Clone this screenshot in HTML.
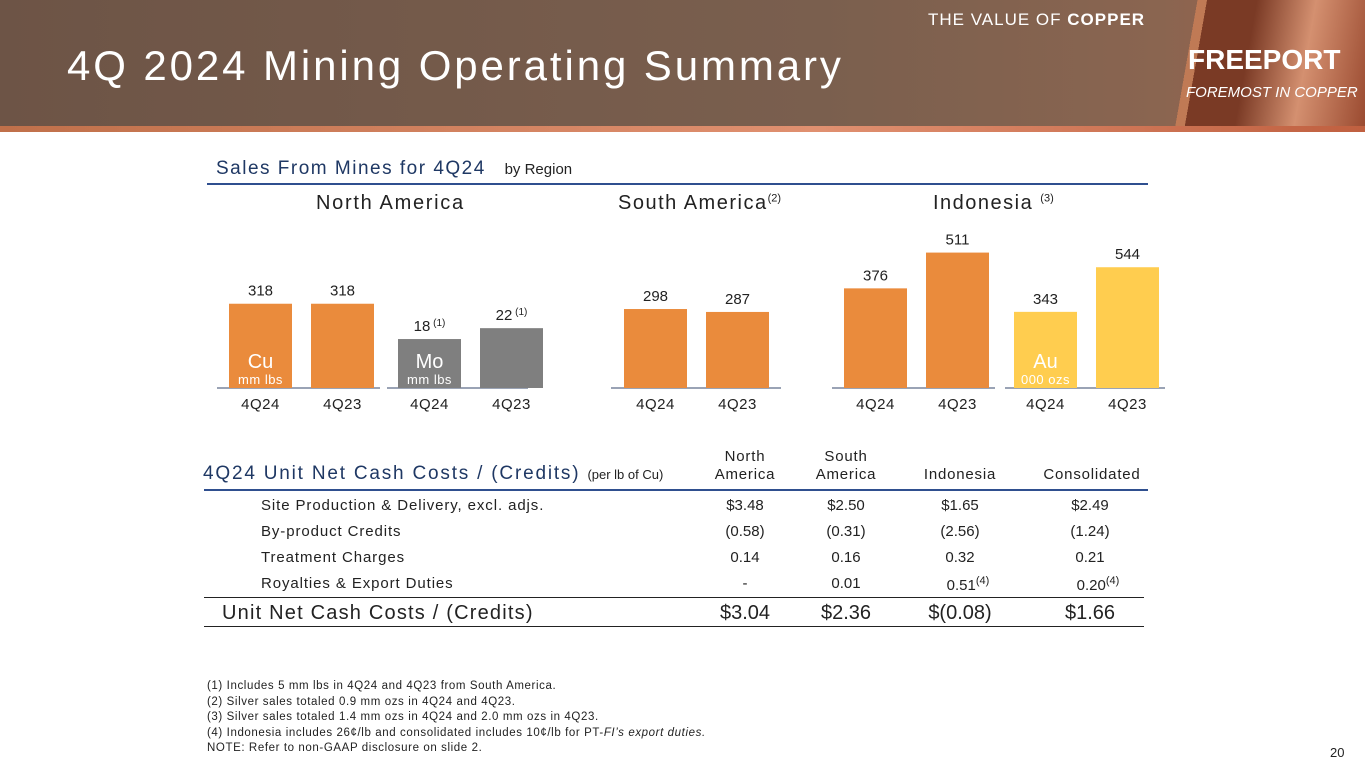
<!DOCTYPE html>
<html><head><meta charset="utf-8"><style>
body{margin:0;width:1365px;height:768px;position:relative;background:#fff;font-family:"Liberation Sans",sans-serif;overflow:hidden}
.a{position:absolute;white-space:nowrap}
.hdr{left:0;top:0;width:1365px;height:128px;background:linear-gradient(90deg,#6d5446 0%,#7a5f4e 60%,#8a6550 85%,#a0604a 100%)}
.stripe{left:0;top:126px;width:1365px;height:6px;background:linear-gradient(90deg,#c0704a,#e09070 60%,#c06040)}
.t{font-size:15px;color:#222;letter-spacing:0.9px}
.num{font-size:15px;color:#222;text-align:center;width:80px}
.big{font-size:20px;color:#222;text-align:center;width:100px}
</style></head><body>
<div class="a hdr"></div>
<div class="a" style="left:1150px;top:0;width:215px;height:128px;background:linear-gradient(100deg,transparent 0 20%,#c07a55 20% 24%,#7a3a25 24% 45%,#d49070 70%,#9a4a30 100%)"></div>
<div class="a stripe"></div>
<div class="a" style="left:67px;top:42px;font-size:42px;color:#fff;letter-spacing:2.9px">4Q 2024 Mining Operating Summary</div>
<div class="a" style="left:928px;top:10px;font-size:17px;color:#fff;letter-spacing:1px">THE VALUE OF <b>COPPER</b></div>
<div class="a" style="left:1188px;top:44px;font-size:28px;color:#fff;font-weight:bold">FREEPORT</div>
<div class="a" style="left:1186px;top:84px;font-size:15px;color:#fff;font-style:italic">FOREMOST IN COPPER</div>

<div class="a" style="left:216px;top:158px;font-size:19px;color:#1f3864;letter-spacing:1.5px">Sales From Mines for 4Q24 <span style="font-size:15px;color:#222;margin-left:12px;letter-spacing:0">by Region</span></div>
<div class="a" style="left:207px;top:183px;width:941px;height:2px;background:#2f4f8f"></div>
<div class="a" style="left:316px;top:192px;font-size:20px;color:#222;letter-spacing:1.7px">North America</div>
<div class="a" style="left:618px;top:192px;font-size:20px;color:#222;letter-spacing:1.5px">South America<sup style="font-size:11px;letter-spacing:0">(2)</sup></div>
<div class="a" style="left:933px;top:192px;font-size:20px;color:#222;letter-spacing:1.5px">Indonesia <sup style="font-size:11px;letter-spacing:0">(3)</sup></div>

<svg class="a" style="left:0;top:0" width="1365" height="768" id="chart"></svg>

<div class="a" style="left:203px;top:463px;font-size:19px;color:#1f3864;letter-spacing:1.8px">4Q24 Unit Net Cash Costs / (Credits) <span style="font-size:13px;color:#222;letter-spacing:0">(per lb of Cu)</span></div>
<div class="a" style="left:700px;top:448px;width:90px;text-align:center;font-size:15px;color:#222;line-height:18px;letter-spacing:0.8px">North<br>America</div>
<div class="a" style="left:801px;top:448px;width:90px;text-align:center;font-size:15px;color:#222;line-height:18px;letter-spacing:0.8px">South<br>America</div>
<div class="a" style="left:915px;top:466px;width:90px;text-align:center;font-size:15px;color:#222;letter-spacing:0.8px">Indonesia</div>
<div class="a" style="left:1037px;top:466px;width:110px;text-align:center;font-size:15px;color:#222;letter-spacing:0.8px">Consolidated</div>
<div class="a" style="left:204px;top:489px;width:944px;height:2px;background:#2f4f8f"></div>
<div id="rows"></div>
<div class="a" style="left:204px;top:597px;width:940px;height:1px;background:#222"></div>
<div class="a" style="left:204px;top:626px;width:940px;height:1px;background:#222"></div>
<div class="a" style="left:222px;top:602px;font-size:20px;color:#222;letter-spacing:1.2px">Unit Net Cash Costs / (Credits)</div>
<div class="a big" style="left:695px;top:602px">$3.04</div>
<div class="a big" style="left:796px;top:602px">$2.36</div>
<div class="a big" style="left:910px;top:602px">$(0.08)</div>
<div class="a big" style="left:1040px;top:602px">$1.66</div>

<div class="a" style="left:207px;top:679px;font-size:11.5px;color:#222;line-height:15.5px;letter-spacing:0.6px">(1) Includes 5 mm lbs in 4Q24 and 4Q23 from South America.<br>(2) Silver sales totaled 0.9 mm ozs in 4Q24 and 4Q23.<br>(3) Silver sales totaled 1.4 mm ozs in 4Q24 and 2.0 mm ozs in 4Q23.<br>(4) Indonesia includes 26¢/lb and consolidated includes 10¢/lb for PT-<i>FI’s export duties.</i><br>NOTE: Refer to non-GAAP disclosure on slide 2.</div>
<div class="a" style="left:1330px;top:745px;font-size:13px;color:#222">20</div>

<script>
const groups = ["NA Cu","NA Mo","SA Cu","ID Cu","ID Au"];
const periods = ["4Q24","4Q23"];
const values = [[318,318],[18,22],[298,287],[376,511],[343,544]];
const notes = [["",""],["(1)","(1)"],["",""],["",""],["",""]];
const units = [["Cu","mm lbs"],["Mo","mm lbs"],["",""],["",""],["Au","000 ozs"]];
const NS="http://www.w3.org/2000/svg";
const svg=document.getElementById('chart');
const base=388;
const scales=[0.265,2.72,0.265,0.265,0.222];
const colors=["#ea8b3c","#7f7f7f","#ea8b3c","#ea8b3c","#ffcd4f"];
const gx=[229,398,624,844,1014], gw=63, gap=82;
const axes=[[217,380],[387,528],[611,781],[832,995],[1005,1165]];
function y(g,v){return base-v*scales[g];}
function mk(t,a){const e=document.createElementNS(NS,t);for(const k in a)e.setAttribute(k,a[k]);svg.appendChild(e);return e;}
groups.forEach((g,gi)=>{
  const ax=mk('line',{x1:axes[gi][0],x2:axes[gi][1],y1:base,y2:base,stroke:'#9aa3b5','stroke-width':2});
  
  
  values[gi].forEach((v,pi)=>{
    const x=gx[gi]+pi*gap, top=y(gi,v);
    const r=mk('rect',{x:x,y:top,width:gw,height:base-top,fill:colors[gi]});
    
    
    const tx=mk('text',{x:x+gw/2,y:top-8,'text-anchor':'middle','font-size':15,fill:'#222','font-family':'Liberation Sans'});
    tx.textContent=v;
    if(notes[gi][pi]){const s=document.createElementNS(NS,'tspan');s.setAttribute('font-size',10);s.setAttribute('dy',-5);s.textContent=' '+notes[gi][pi];tx.appendChild(s);}
    
    
    const lb=mk('text',{x:x+gw/2,y:base+21,'text-anchor':'middle','font-size':15,fill:'#222','font-family':'Liberation Sans','letter-spacing':0.5});
    lb.textContent=periods[pi];
    
    
  });
  if(units[gi][0]){
    const cx=gx[gi]+gw/2;
    const u1=mk('text',{x:cx,y:base-20,'text-anchor':'middle','font-size':20,fill:'#fff','font-family':'Liberation Sans'});
    u1.textContent=units[gi][0];
    
    
    const u2=mk('text',{x:cx,y:base-4,'text-anchor':'middle','font-size':13,fill:'#fff','font-family':'Liberation Sans','letter-spacing':0.5});
    u2.textContent=units[gi][1];
    
    
  }
});
const rowLabels=["Site Production & Delivery, excl. adjs.","By-product Credits","Treatment Charges","Royalties & Export Duties"];
const rowNA=["$3.48","(0.58)","0.14","-"];
const rowSA=["$2.50","(0.31)","0.16","0.01"];
const rowID=["$1.65","(2.56)","0.32","0.51"];
const rowCons=["$2.49","(1.24)","0.21","0.20"];
const rows=document.getElementById('rows');
const cols=[[rowNA,705],[rowSA,806],[rowID,920],[rowCons,1050]];
rowLabels.forEach((l,i)=>{
  const top=497+i*26;
  const d=document.createElement('div');d.className='a t';d.style.left='261px';d.style.top=top+'px';d.textContent=l;
  
  
  rows.appendChild(d);
  cols.forEach(([arr,x],ci)=>{
    const c=document.createElement('div');c.className='a num';c.style.left=x+'px';c.style.top=top+'px';c.textContent=arr[i];
    if(i===3&&ci>=2){const s=document.createElement('sup');s.style.fontSize='11px';s.textContent='(4)';c.appendChild(s);c.style.left=(x+8)+'px';}
    
    
    rows.appendChild(c);
  });
});
</script>
</body></html>
